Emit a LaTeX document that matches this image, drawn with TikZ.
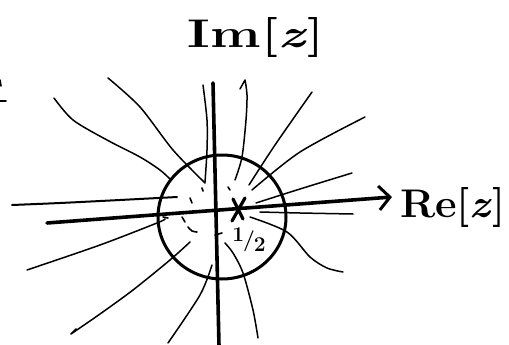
\documentclass[tikz,border=0pt]{standalone}
\usepackage{fontspec}
\usetikzlibrary{arrows.meta,positioning}

\begin{document}
\begin{tikzpicture}[x=1pt,y=-1pt,
  fline/.style={line width=1.5pt,line cap=round,line join=round},
  axis/.style={line width=3.6pt,line cap=round},
  dot/.style={line width=1.6pt,line cap=round},
  lab/.style={font=\fontsize{40}{40}\selectfont\bfseries,inner sep=0pt}]
\useasboundingbox (0,0) rectangle (509,345);
% labels
\node[lab] (im) at (256,38) {\scalebox{1.35}[1]{Im[\textit{z}]}};
\node[lab,anchor=east] (re) at (506,207) {\scalebox{1.05}[1]{Re[\textit{z}]}};
\node[font=\fontsize{21}{21}\selectfont\bfseries,inner sep=0pt] (half) at (249,240)
  {\raisebox{5pt}{1}\kern-1pt/\kern-1pt\raisebox{-5pt}{2}};
% axes
\coordinate (xl) at (47,223);
\coordinate (xr) at (392,197);
\coordinate (yt) at (213,83);
\coordinate (yb) at (219,346);
\draw[axis,-{Straight Barb[length=11pt,width=24pt,line width=3pt]}] (xl) -- (xr);
\draw[axis] (yt) -- (yb);
% unit circle and the pole
\draw[line width=3pt] (222,217) ellipse (64pt and 62pt);
\coordinate (pole) at (238,209);
\draw[line width=3.2pt,line cap=round] (233,199)--(243,219) (245,198)--(232,221);
% field lines
\draw[fline] plot[smooth] coordinates {(54,98) (73,120) (107,140) (140,157) (160,170) (171,180)};
\draw[fline] plot[smooth] coordinates {(108,78) (140,107) (173,150) (205,183)};
\draw[fline] plot[smooth] coordinates {(203,85) (207,120) (207,150) (205,182)};
\draw[fline] (240,89) -- (245,80) plot[smooth] coordinates {(245,80) (247,95) (246,120) (242,157) (235,180)};
\draw[fline] plot[smooth] coordinates {(312,92) (275,145) (249,185)};
\draw[fline] plot[smooth] coordinates {(365,117) (300,152) (252,190)};
\draw[fline] plot[smooth] coordinates {(352,173) (300,189) (256,203)};
\draw[fline] plot[smooth] coordinates {(260,212) (300,213) (353,214)};
\draw[fline] plot[smooth] coordinates {(250,217) (287,232) (310,257) (327,268) (343,272)};
\draw[fline] plot[smooth] coordinates {(225,243) (233,253) (243,273) (253,310) (258,338)};
\draw[fline] plot[smooth] coordinates {(168,343) (200,295) (212,265)};
\draw[fline] (76,329) -- (71,334) plot[smooth] coordinates {(71,334) (100,314) (133,290) (170,260) (190,242)};
\draw[fline] plot[smooth] coordinates {(27,270) (100,245) (157,223) (165,219)};
\draw[fline,line width=2pt] plot[smooth] coordinates {(12,205) (60,203) (120,200) (177,197)};
% short strokes inside the circle
\draw[dot] (202,188)--(203,191) (190,198)--(192,203) (228,187)--(230,190)
  (182,217)--(185,222) (163,217)--(168,218) (215,235)--(222,233);
\draw[dot] plot[smooth] coordinates {(188,227) (192,231) (197,232)};
% cut-off mark at the left edge
\draw[dot] (0,80)--(1,86) (0,101)--(6,101);
\end{tikzpicture}
\end{document}
